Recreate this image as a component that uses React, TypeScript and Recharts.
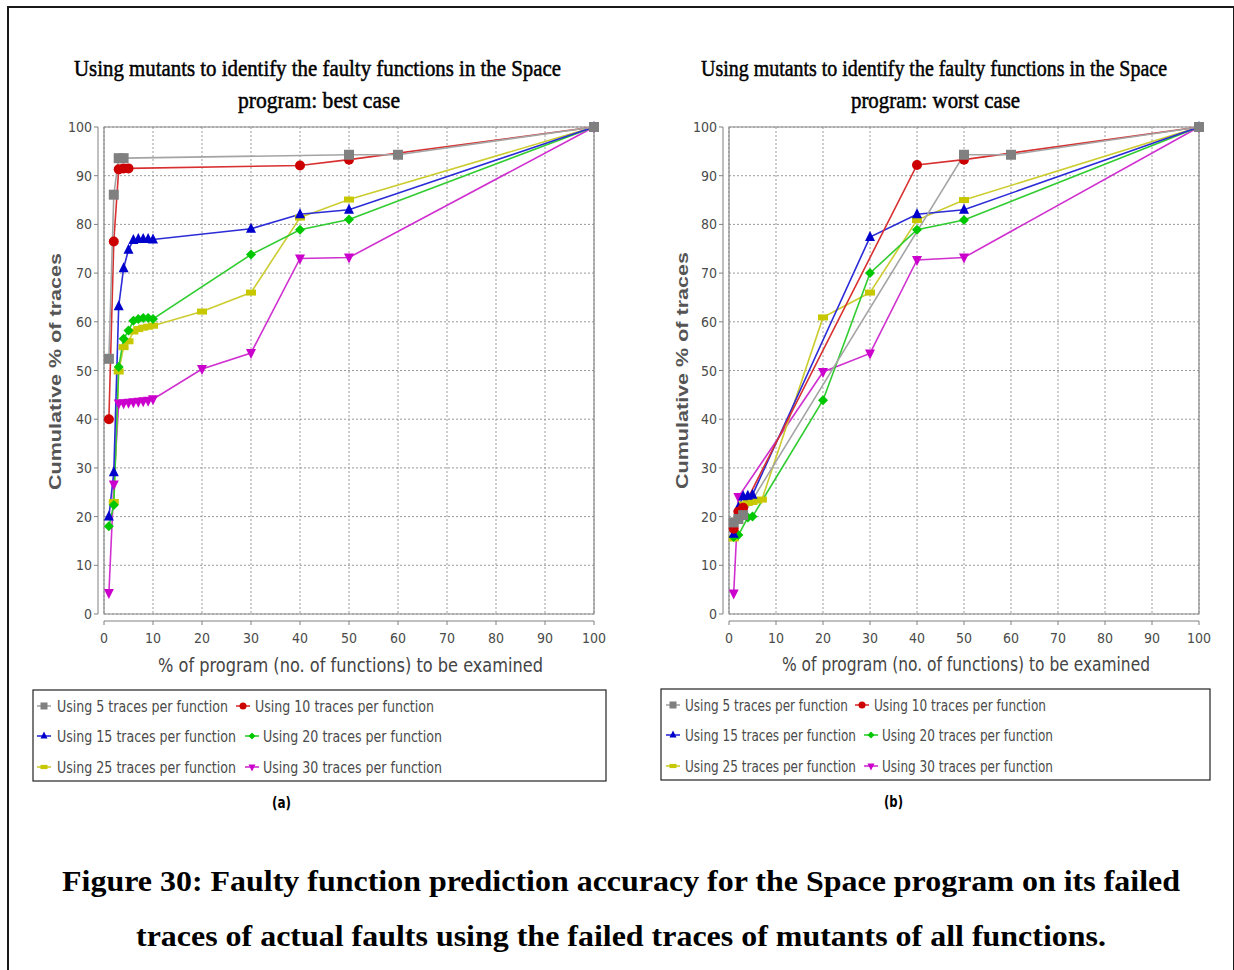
import React from "react"
import { LineChart, Line, XAxis, YAxis, CartesianGrid, ReferenceArea } from "recharts"

// x: % of program examined, y: cumulative % of traces

// (a) best case
const best5X = [1, 2, 3, 4, 50, 60, 100]
const best5Y = [52.4, 86.1, 93.6, 93.6, 94.3, 94.3, 100]
const best10X = [1, 2, 3, 4, 5, 40, 50, 100]
const best10Y = [40, 76.5, 91.3, 91.5, 91.5, 92.1, 93.3, 100]
const best15X = [1, 2, 3, 4, 5, 6, 7, 8, 9, 10, 30, 40, 50, 100]
const best15Y = [20, 29.1, 63.2, 71, 74.8, 76.8, 77, 77, 77, 76.9, 79.1, 82.1, 83, 100]
const best20X = [1, 2, 3, 4, 5, 6, 7, 8, 9, 10, 30, 40, 50, 100]
const best20Y = [18, 22.4, 50.7, 56.5, 58.2, 60.2, 60.6, 60.8, 60.8, 60.6, 73.8, 78.9, 81, 100]
const best25X = [2, 3, 4, 5, 6, 7, 8, 9, 10, 20, 30, 40, 50, 100]
const best25Y = [23, 49.8, 54.8, 56, 58, 58.5, 58.8, 59, 59.2, 62.1, 66, 81.4, 85.1, 100]
const best30X = [1, 2, 3, 4, 5, 6, 7, 8, 9, 10, 20, 30, 40, 50, 100]
const best30Y = [4.3, 26.6, 43.2, 43.3, 43.4, 43.5, 43.6, 43.7, 43.8, 44.1, 50.3, 53.6, 73, 73.2, 100]

// (b) worst case
const worst5X = [1, 2, 3, 50, 60, 100]
const worst5Y = [18.8, 19.5, 20.3, 94.3, 94.3, 100]
const worst10X = [1, 2, 3, 40, 50, 100]
const worst10Y = [17.5, 21, 21.8, 92.2, 93.3, 100]
const worst15X = [1, 2, 3, 4, 5, 30, 40, 50, 100]
const worst15Y = [16.5, 21.9, 24.2, 24.3, 24.5, 77.4, 82.1, 83, 100]
const worst20X = [1, 2, 4, 5, 20, 30, 40, 50, 100]
const worst20Y = [15.8, 16.2, 19.8, 20, 43.9, 70, 78.9, 80.9, 100]
const worst25X = [1, 3, 4, 5, 6, 7, 20, 30, 40, 50, 100]
const worst25Y = [15.5, 22.5, 22.8, 23, 23.3, 23.5, 60.9, 66, 80.9, 85, 100]
const worst30X = [1, 2, 20, 30, 40, 50, 100]
const worst30Y = [4.2, 24, 49.7, 53.5, 72.7, 73.2, 100]

const seriesNames = [
  "Using 5 traces per function",
  "Using 10 traces per function",
  "Using 15 traces per function",
  "Using 20 traces per function",
  "Using 25 traces per function",
  "Using 30 traces per function",
]

const axisTicks = [0, 10, 20, 30, 40, 50, 60, 70, 80, 90, 100]

type Shape = "square" | "circle" | "up" | "diamond" | "bar" | "down"

const STYLES: { color: string; line: string; shape: Shape }[] = [
  { color: "#808080", line: "#a4a4a4", shape: "square" },
  { color: "#cc0000", line: "#d83030", shape: "circle" },
  { color: "#0000cc", line: "#2b2bd8", shape: "up" },
  { color: "#00c800", line: "#30cc30", shape: "diamond" },
  { color: "#c8c800", line: "#cccc30", shape: "bar" },
  { color: "#cc00cc", line: "#d030d0", shape: "down" },
]

const SANS = "'DejaVu Sans Condensed', 'Liberation Sans Narrow', 'Liberation Sans', Arial, sans-serif"
const SERIF = "'Liberation Serif', 'DejaVu Serif', serif"

const zip = (xs: number[], ys: number[]) => xs.map((x, i) => ({ x, y: ys[i] }))

const bestSeries = [
  zip(best5X, best5Y),
  zip(best10X, best10Y),
  zip(best15X, best15Y),
  zip(best20X, best20Y),
  zip(best25X, best25Y),
  zip(best30X, best30Y),
]
const worstSeries = [
  zip(worst5X, worst5Y),
  zip(worst10X, worst10Y),
  zip(worst15X, worst15Y),
  zip(worst20X, worst20Y),
  zip(worst25X, worst25Y),
  zip(worst30X, worst30Y),
]

function Marker({ shape, cx, cy, color, s }: { shape: Shape; cx: number; cy: number; color: string; s: number }) {
  const h = s / 2
  switch (shape) {
    case "square":
      return <rect x={cx - h} y={cy - h} width={s} height={s} fill={color} />
    case "circle":
      return <circle cx={cx} cy={cy} r={h} fill={color} />
    case "up":
      return <polygon points={`${cx},${cy - h - 1} ${cx + h},${cy + h - 1} ${cx - h},${cy + h - 1}`} fill={color} />
    case "down":
      return <polygon points={`${cx},${cy + h + 1} ${cx + h},${cy - h + 1} ${cx - h},${cy - h + 1}`} fill={color} />
    case "diamond":
      return <polygon points={`${cx},${cy - h} ${cx + h},${cy} ${cx},${cy + h} ${cx - h},${cy}`} fill={color} />
    case "bar":
      return <rect x={cx - h} y={cy - h * 0.6} width={s} height={s * 0.6} fill={color} />
  }
}

function XTick(props: any) {
  const { x, y, payload } = props
  return (
    <text x={x} y={y + 4} dy="0.75em" textAnchor="middle" fill="#4a4a4a" fontSize={14} fontFamily={SANS}>
      {payload.value}
    </text>
  )
}

function YTick(props: any) {
  const { x, y, payload } = props
  return (
    <text x={x} y={y} dy="0.36em" textAnchor="end" fill="#4a4a4a" fontSize={14} fontFamily={SANS}>
      {payload.value}
    </text>
  )
}

function Panel({ left, top, width, series }: { left: number; top: number; width: number; series: { x: number; y: number }[][] }) {
  // JFreeChart draws series 0 last, so walk the list backwards
  const order = [5, 4, 3, 2, 1, 0]
  return (
    <div style={{ position: "absolute", left, top }}>
      <LineChart width={width} height={540} margin={{ top: 17, right: 26, left: 14, bottom: 6 }}>
        <CartesianGrid stroke="#9a9a9a" strokeDasharray="2 2" xAxisId="shown" yAxisId="shown" />
        <XAxis xAxisId={0} type="number" dataKey="x" domain={[0, 100]} ticks={axisTicks} height={7} tick={false} tickLine={false} axisLine={false} />
        <XAxis
          xAxisId="shown"
          type="number"
          dataKey="x"
          domain={[0, 100]}
          ticks={axisTicks}
          height={23}
          tickSize={4}
          tickMargin={3}
          stroke="#808080"
          tick={<XTick />}
          allowDataOverflow
        />
        <YAxis yAxisId={0} type="number" domain={[0, 100]} ticks={axisTicks} width={6} tick={false} tickLine={false} axisLine={false} />
        <YAxis
          yAxisId="shown"
          type="number"
          domain={[0, 100]}
          ticks={axisTicks}
          width={44}
          tickSize={4}
          tickMargin={2}
          stroke="#808080"
          tick={<YTick />}
          allowDataOverflow
        />
        <ReferenceArea x1={0} x2={100} y1={0} y2={100} fill="none" stroke="#8a8a8a" strokeWidth={1.2} ifOverflow="visible" />
        {order.map((i) => (
          <Line
            key={seriesNames[i]}
            name={seriesNames[i]}
            data={series[i]}
            dataKey="y"
            type="linear"
            stroke={STYLES[i].line}
            strokeWidth={1.6}
            isAnimationActive={false}
            dot={(p: any) => (
              <Marker key={`${i}-${p.index}`} shape={STYLES[i].shape} cx={p.cx} cy={p.cy} color={STYLES[i].color} s={10} />
            )}
            activeDot={false}
          />
        ))}
      </LineChart>
    </div>
  )
}

type LegendRow = { mx: number; tx: number; w: number }[]

function LegendBox({ box, rows, rowY, size }: { box: [number, number, number, number]; rows: LegendRow[]; rowY: number[]; size: number }) {
  return (
    <g>
      <rect x={box[0]} y={box[1]} width={box[2]} height={box[3]} fill="none" stroke="#222" strokeWidth={1.2} />
      {rows.map((row, r) =>
        row.map((it, c) => {
          const i = r * 2 + c
          const y = rowY[r]
          return (
            <g key={i}>
              <line x1={it.mx - 7} x2={it.mx + 7} y1={y} y2={y} stroke={STYLES[i].line} strokeWidth={1.6} />
              <Marker shape={STYLES[i].shape} cx={it.mx} cy={y} color={STYLES[i].color} s={7} />
              <text x={it.tx} y={y + size * 0.36} fontSize={size} fontFamily={SANS} fill="#4a4a4a" textLength={it.w} lengthAdjust="spacingAndGlyphs">
                {seriesNames[i]}
              </text>
            </g>
          )
        })
      )}
    </g>
  )
}

function T({ x, y, w, size, children, weight, fill, family, thick }: any) {
  return (
    <text
      x={x}
      y={y}
      fontSize={size}
      fontWeight={weight ?? "normal"}
      fill={fill ?? "#000"}
      stroke={thick ? fill ?? "#000" : undefined}
      strokeWidth={thick}
      fontFamily={family ?? SERIF}
      textLength={w}
      lengthAdjust="spacingAndGlyphs"
    >
      {children}
    </text>
  )
}

// serif panel titles, drawn a little taller than the font's natural height
function Title({ x, y, w, children }: any) {
  return (
    <g transform={`translate(0 ${y}) scale(1 1.1)`}>
      <T x={x} y={0} w={w} size={21} thick={0.45}>
        {children}
      </T>
    </g>
  )
}

export default function App() {
  return (
    <div style={{ position: "absolute", left: 0, top: 0, width: 1234, height: 970, background: "#fff", overflow: "hidden" }}>
      <div style={{ position: "absolute", left: 7, top: 6, width: 1224, height: 990, border: "2px solid #1a1a1a" }} />
      <Panel left={40} top={110} width={580} series={bestSeries} />
      <Panel left={665} top={110} width={560} series={worstSeries} />
      <svg width={1234} height={970} style={{ position: "absolute", left: 0, top: 0, pointerEvents: "none" }}>
        <Title x={74} y={76} w={487}>Using mutants to identify the faulty functions in the Space</Title>
        <Title x={238} y={108} w={162}>program: best case</Title>
        <Title x={701} y={76} w={466}>Using mutants to identify the faulty functions in the Space</Title>
        <Title x={851} y={108} w={169}>program: worst case</Title>

        {/* axis titles */}
        <T x={158} y={672} w={385} size={19} family={SANS} fill="#444">% of program (no. of functions) to be examined</T>
        <T x={782} y={671} w={368} size={19} family={SANS} fill="#444">% of program (no. of functions) to be examined</T>
        <g transform="translate(61,372) rotate(-90)">
          <T x={-118} y={0} w={237} size={17} weight="bold" family="'Liberation Sans', Arial, sans-serif" fill="#555">Cumulative % of traces</T>
        </g>
        <g transform="translate(688,371) rotate(-90)">
          <T x={-118} y={0} w={237} size={17} weight="bold" family="'Liberation Sans', Arial, sans-serif" fill="#555">Cumulative % of traces</T>
        </g>

        {/* legends */}
        <LegendBox
          box={[33, 690, 573, 91]}
          rowY={[706, 736, 767]}
          size={16}
          rows={[
            [{ mx: 44, tx: 57, w: 171 }, { mx: 243, tx: 255, w: 179 }],
            [{ mx: 44, tx: 57, w: 179 }, { mx: 252, tx: 263, w: 179 }],
            [{ mx: 44, tx: 57, w: 179 }, { mx: 252, tx: 263, w: 179 }],
          ]}
        />
        <LegendBox
          box={[661, 689, 549, 91]}
          rowY={[705, 735, 766]}
          size={15.5}
          rows={[
            [{ mx: 673, tx: 685, w: 163 }, { mx: 862, tx: 874, w: 172 }],
            [{ mx: 673, tx: 685, w: 171 }, { mx: 871, tx: 882, w: 171 }],
            [{ mx: 673, tx: 685, w: 171 }, { mx: 871, tx: 882, w: 171 }],
          ]}
        />
        <T x={272} y={808} w={19} size={16} weight="bold" family={SANS}>(a)</T>
        <T x={884} y={807} w={19} size={16} weight="bold" family={SANS}>(b)</T>

        {/* caption */}
        <T x={62} y={891} w={1118} size={29} weight="bold">Figure 30: Faulty function prediction accuracy for the Space program on its failed</T>
        <T x={136} y={946} w={970} size={29} weight="bold">traces of actual faults using the failed traces of mutants of all functions.</T>
      </svg>
    </div>
  )
}
